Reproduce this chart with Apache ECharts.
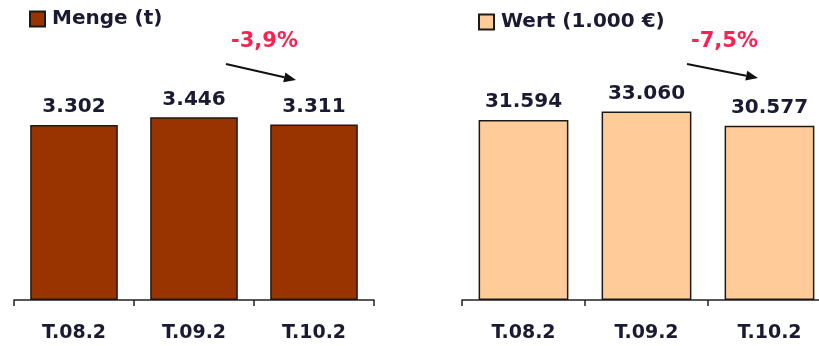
<!DOCTYPE html>
<html>
<head>
<meta charset="utf-8">
<script src="https://cdn.jsdelivr.net/npm/echarts@6/dist/echarts.min.js"></script>
<style>
    html, body { margin: 0; padding: 0; background: #fff; }
    #chart { width: 819px; height: 346px; }
</style>
</head>
<body>
<div id="chart"></div>
<script>
const categories = ['T.08.2', 'T.09.2', 'T.10.2'];
const mengeName = 'Menge (t)';
const mengeValues = [3302, 3446, 3311];
const mengeChange = '-3,9%';
const wertName = 'Wert (1.000 €)';
const wertValues = [31594, 33060, 30577];
const wertChange = '-7,5%';

const font = 'DejaVu Sans';
const textColor = '#1a1a33';
const redColor = '#ff1f50';

const chart = echarts.init(document.getElementById('chart'));

// formats 3302 -> 3.302
const fmt = v => String(v).replace(/\B(?=(\d{3})+(?!\d))/g, '.');

let xAxisFor = idx => ({
    type: 'category',
    gridIndex: idx,
    data: categories,
    boundaryGap: true,
    axisLine: { show: true, lineStyle: { color: '#222', width: 1.5 } },
    axisTick: { show: true, alignWithLabel: false, inside: false, length: 6, lineStyle: { color: '#222', width: 1.5 } },
    axisLabel: {
        margin: 24,
        color: textColor,
        fontFamily: font,
        fontWeight: 'bold',
        fontSize: 19
    }
});

let yAxisFor = (idx, max) => ({
    type: 'value',
    gridIndex: idx,
    min: 0,
    max: max,
    show: false,
    splitLine: { show: false }
});

let seriesFor = (idx, name, data, color) => ({
    name: name,
    type: 'bar',
    xAxisIndex: idx,
    yAxisIndex: idx,
    data: data,
    barWidth: '73%',
    itemStyle: { color: color, borderColor: '#1a1a1a', borderWidth: 1.5 },
    label: {
        show: true,
        position: 'top',
        distance: 8,
        formatter: p => fmt(p.value),
        color: textColor,
        fontFamily: font,
        fontWeight: 'bold',
        fontSize: 20
    }
});

let arrow = (x1, y1, x2, y2) => {
    let ang = Math.atan2(y2 - y1, x2 - x1);
    let len = 12, half = 5;
    let bx = x2 - len * Math.cos(ang), by = y2 - len * Math.sin(ang);
    let px = -Math.sin(ang) * half, py = Math.cos(ang) * half;
    return [{
        type: 'line',
        shape: { x1: x1, y1: y1, x2: bx, y2: by },
        style: { stroke: '#111', lineWidth: 2 }
    }, {
        type: 'polygon',
        shape: { points: [[x2, y2], [bx + px, by + py], [bx - px, by - py]] },
        style: { fill: '#111' }
    }];
};

let legendFor = (name, left, top) => ({
    data: [name],
    left: left,
    top: top,
    padding: 0,
    itemWidth: 15,
    itemHeight: 15,
    itemGap: 6,
    icon: 'rect',
    textStyle: { color: textColor, fontFamily: font, fontWeight: 'bold', fontSize: 20, padding: [0, 0, 0, 2] }
});

let option = {
    animation: false,
    legend: [
        legendFor(mengeName, 29, 9),
        legendFor(wertName, 478, 12)
    ],
    grid: [
        { left: 14, width: 360, top: 88, bottom: 46, outerBoundsMode: 'none' },
        { left: 462, width: 369, top: 72, bottom: 46, outerBoundsMode: 'none' }
    ],
    xAxis: [xAxisFor(0), xAxisFor(1)],
    yAxis: [yAxisFor(0, 4000), yAxisFor(1, 40000)],
    series: [
        seriesFor(0, mengeName, mengeValues, '#993300'),
        seriesFor(1, wertName, wertValues, '#ffcc99')
    ],
    graphic: [
        {
            type: 'text', left: 231, top: 31,
            style: { text: mengeChange, fill: redColor, font: 'bold 21px "DejaVu Sans"' }
        },
        {
            type: 'text', left: 691, top: 31,
            style: { text: wertChange, fill: redColor, font: 'bold 21px "DejaVu Sans"' }
        },
        ...arrow(226, 64, 296, 80),
        ...arrow(687, 64, 758, 78)
    ]
};

chart.setOption(option);
</script>
</body>
</html>
